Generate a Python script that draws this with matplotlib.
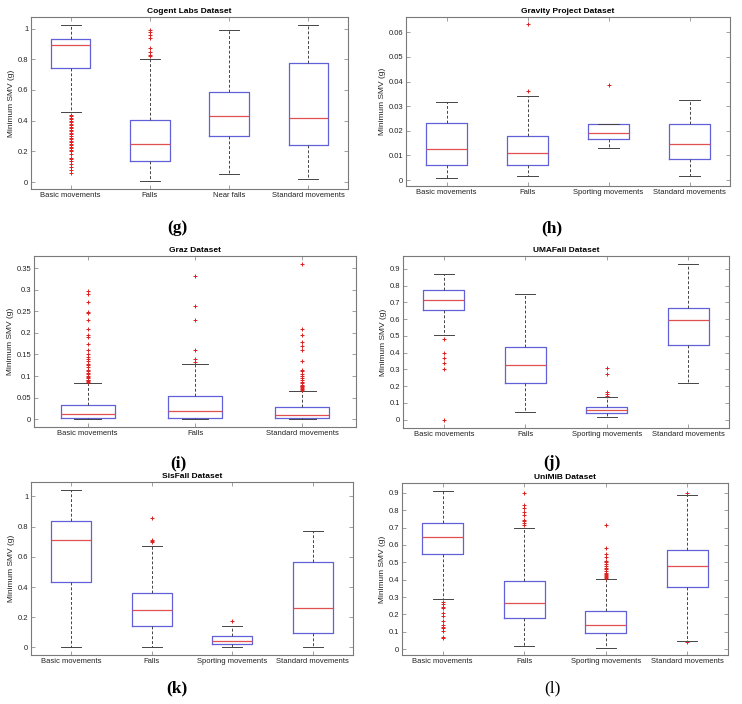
import matplotlib
matplotlib.use("Agg")
import matplotlib.pyplot as plt

plt.rcParams['font.family'] = ['Liberation Sans', 'DejaVu Sans']

# ---- data (min SMV in g) ----
# each box: [whislo, q1, med, q3, whishi]

cogent_labels = ["Basic movements", "Falls", "Near falls", "Standard movements"]
cogent_boxes = [
    [0.455, 0.74, 0.89, 0.93, 1.02],
    [0.01, 0.14, 0.245, 0.405, 0.80],
    [0.055, 0.30, 0.43, 0.585, 0.99],
    [0.02, 0.24, 0.415, 0.775, 1.025],
]
cogent_fliers = [
    [0.44, 0.43, 0.42, 0.41, 0.40, 0.39, 0.38, 0.37, 0.36, 0.35, 0.34, 0.33,
     0.32, 0.31, 0.30, 0.29, 0.28, 0.27, 0.26, 0.25, 0.24, 0.23, 0.22, 0.21,
     0.20, 0.18, 0.16, 0.15, 0.14, 0.12, 0.10, 0.08, 0.06],
    [0.82, 0.83, 0.85, 0.87, 0.94, 0.96, 0.98, 0.99],
    [],
    [],
]

gravity_labels = ["Basic movements", "Falls", "Sporting movements", "Standard movements"]
gravity_boxes = [
    [0.0008, 0.006, 0.0125, 0.023, 0.0315],
    [0.0017, 0.006, 0.011, 0.018, 0.034],
    [0.013, 0.0168, 0.019, 0.0227, 0.0227],
    [0.0017, 0.0085, 0.0147, 0.0227, 0.0324],
]
gravity_fliers = [[], [0.0362, 0.0632], [0.0384], []]

graz_labels = ["Basic movements", "Falls", "Standard movements"]
graz_boxes = [
    [0.0, 0.002, 0.011, 0.034, 0.084],
    [0.0, 0.004, 0.02, 0.053, 0.127],
    [0.0, 0.002, 0.010, 0.029, 0.066],
]
graz_fliers = [
    [0.086, 0.088, 0.090, 0.092, 0.095, 0.098, 0.100, 0.104, 0.108, 0.112,
     0.115, 0.120, 0.125, 0.128, 0.135, 0.140, 0.145, 0.150, 0.160, 0.175,
     0.190, 0.195, 0.210, 0.230, 0.245, 0.248, 0.272, 0.290, 0.298],
    [0.132, 0.140, 0.160, 0.230, 0.262, 0.332],
    [0.068, 0.070, 0.072, 0.074, 0.076, 0.078, 0.080, 0.083, 0.086, 0.090,
     0.095, 0.100, 0.105, 0.112, 0.115, 0.135, 0.160, 0.170, 0.180, 0.195,
     0.210, 0.360],
]

umafall_labels = ["Basic movements", "Falls", "Sporting movements", "Standard movements"]
umafall_boxes = [
    [0.505, 0.655, 0.715, 0.772, 0.868],
    [0.048, 0.22, 0.325, 0.435, 0.748],
    [0.018, 0.038, 0.055, 0.078, 0.132],
    [0.216, 0.445, 0.595, 0.665, 0.93],
]
umafall_fliers = [
    [0.48, 0.40, 0.37, 0.335, 0.30, 0.0],
    [],
    [0.14, 0.15, 0.162, 0.27, 0.305],
    [],
]

sisfall_labels = ["Basic movements", "Falls", "Sporting movements", "Standard movements"]
sisfall_boxes = [
    [0.0, 0.43, 0.71, 0.84, 1.045],
    [0.0, 0.145, 0.25, 0.36, 0.67],
    [0.0, 0.02, 0.04, 0.073, 0.143],
    [0.0, 0.093, 0.263, 0.565, 0.77],
]
sisfall_fliers = [[], [0.70, 0.705, 0.71, 0.855], [0.172], []]

unimib_labels = ["Basic movements", "Falls", "Sporting movements", "Standard movements"]
unimib_boxes = [
    [0.287, 0.55, 0.647, 0.728, 0.91],
    [0.018, 0.177, 0.268, 0.39, 0.70],
    [0.008, 0.092, 0.137, 0.218, 0.403],
    [0.045, 0.36, 0.476, 0.573, 0.885],
]
unimib_fliers = [
    [0.27, 0.26, 0.245, 0.235, 0.21, 0.19, 0.16, 0.14, 0.13, 0.12, 0.105,
     0.07, 0.065],
    [0.715, 0.725, 0.735, 0.745, 0.77, 0.79, 0.81, 0.83, 0.90],
    [0.41, 0.415, 0.42, 0.425, 0.43, 0.44, 0.45, 0.46, 0.47, 0.48, 0.49,
     0.50, 0.51, 0.53, 0.55, 0.58, 0.715],
    [0.04, 0.90],
]

panels = [
    # title, labels, boxes, fliers, ylim, yticks, tag, axes px box, tag px centre
    ("Cogent Labs Dataset", cogent_labels, cogent_boxes, cogent_fliers,
     (-0.045, 1.075), [0, 0.2, 0.4, 0.6, 0.8, 1], "(g)", (31, 17, 348, 189), (177, 228)),
    ("Gravity Project Dataset", gravity_labels, gravity_boxes, gravity_fliers,
     (-0.0024, 0.0662), [0, 0.01, 0.02, 0.03, 0.04, 0.05, 0.06], "(h)",
     (406, 17, 730, 186), (552, 228)),
    ("Graz Dataset", graz_labels, graz_boxes, graz_fliers,
     (-0.018, 0.378), [0, 0.05, 0.1, 0.15, 0.2, 0.25, 0.3, 0.35], "(i)",
     (34, 256, 356, 427), (178, 463)),
    ("UMAFall Dataset", umafall_labels, umafall_boxes, umafall_fliers,
     (-0.05, 0.976), [0, 0.1, 0.2, 0.3, 0.4, 0.5, 0.6, 0.7, 0.8, 0.9], "(j)",
     (403, 256, 729, 428), (552, 463)),
    ("SisFall Dataset", sisfall_labels, sisfall_boxes, sisfall_fliers,
     (-0.05, 1.095), [0, 0.2, 0.4, 0.6, 0.8, 1], "(k)", (31, 482, 353, 655), (177, 688)),
    ("UniMiB Dataset", unimib_labels, unimib_boxes, unimib_fliers,
     (-0.033, 0.956), [0, 0.1, 0.2, 0.3, 0.4, 0.5, 0.6, 0.7, 0.8, 0.9], "(l)",
     (402, 483, 728, 655), (552, 688)),
]

W, H = 742, 704
fig = plt.figure(figsize=(W / 100, H / 100), dpi=100)

box_col = "#6060d8"
med_col = "#e05050"
edge_col = "#7a7a7a"

for title, labels, boxes, fliers, ylim, yticks, tag, (x0, y0, x1, y1), (tx, ty) in panels:
    ax = fig.add_axes([x0 / W, 1 - y1 / H, (x1 - x0) / W, (y1 - y0) / H])
    stats = []
    for lab, b, fl in zip(labels, boxes, fliers):
        stats.append(dict(label=lab, whislo=b[0], q1=b[1], med=b[2],
                          q3=b[3], whishi=b[4], fliers=fl))
    ax.bxp(stats, widths=0.5, showfliers=True,
           boxprops=dict(color=box_col, lw=0.9),
           medianprops=dict(color=med_col, lw=0.9),
           whiskerprops=dict(color="#444444", lw=0.7, ls=(0, (3, 2))),
           capprops=dict(color="#444444", lw=0.7),
           flierprops=dict(marker="+", markeredgecolor="#e02020",
                           markerfacecolor="#e02020",
                           markersize=3.5, markeredgewidth=0.7, ls="none"))
    ax.set_xlim(0.5, len(labels) + 0.5)
    ax.set_ylim(*ylim)
    ax.set_yticks(yticks)
    ax.set_yticklabels([("%g" % v) for v in yticks])
    ax.tick_params(direction="in", length=3, width=0.5, labelsize=5.5,
                   top=True, right=True, pad=2,
                   colors=edge_col, labelcolor="#222222")
    for s in ax.spines.values():
        s.set_color(edge_col)
        s.set_linewidth(0.8)
    ax.set_title(title, fontsize=6, fontweight="bold", pad=3)
    ax.set_ylabel("Minimum SMV (g)", fontsize=6, labelpad=2, color="#222222")
    # panel tag below the axes
    fig.text(tx / W, 1 - ty / H, tag, ha="center", va="center", fontsize=12.5,
             family="Liberation Serif",
             fontweight="normal" if tag == "(l)" else "bold")

fig.savefig("out.png", dpi=100)
